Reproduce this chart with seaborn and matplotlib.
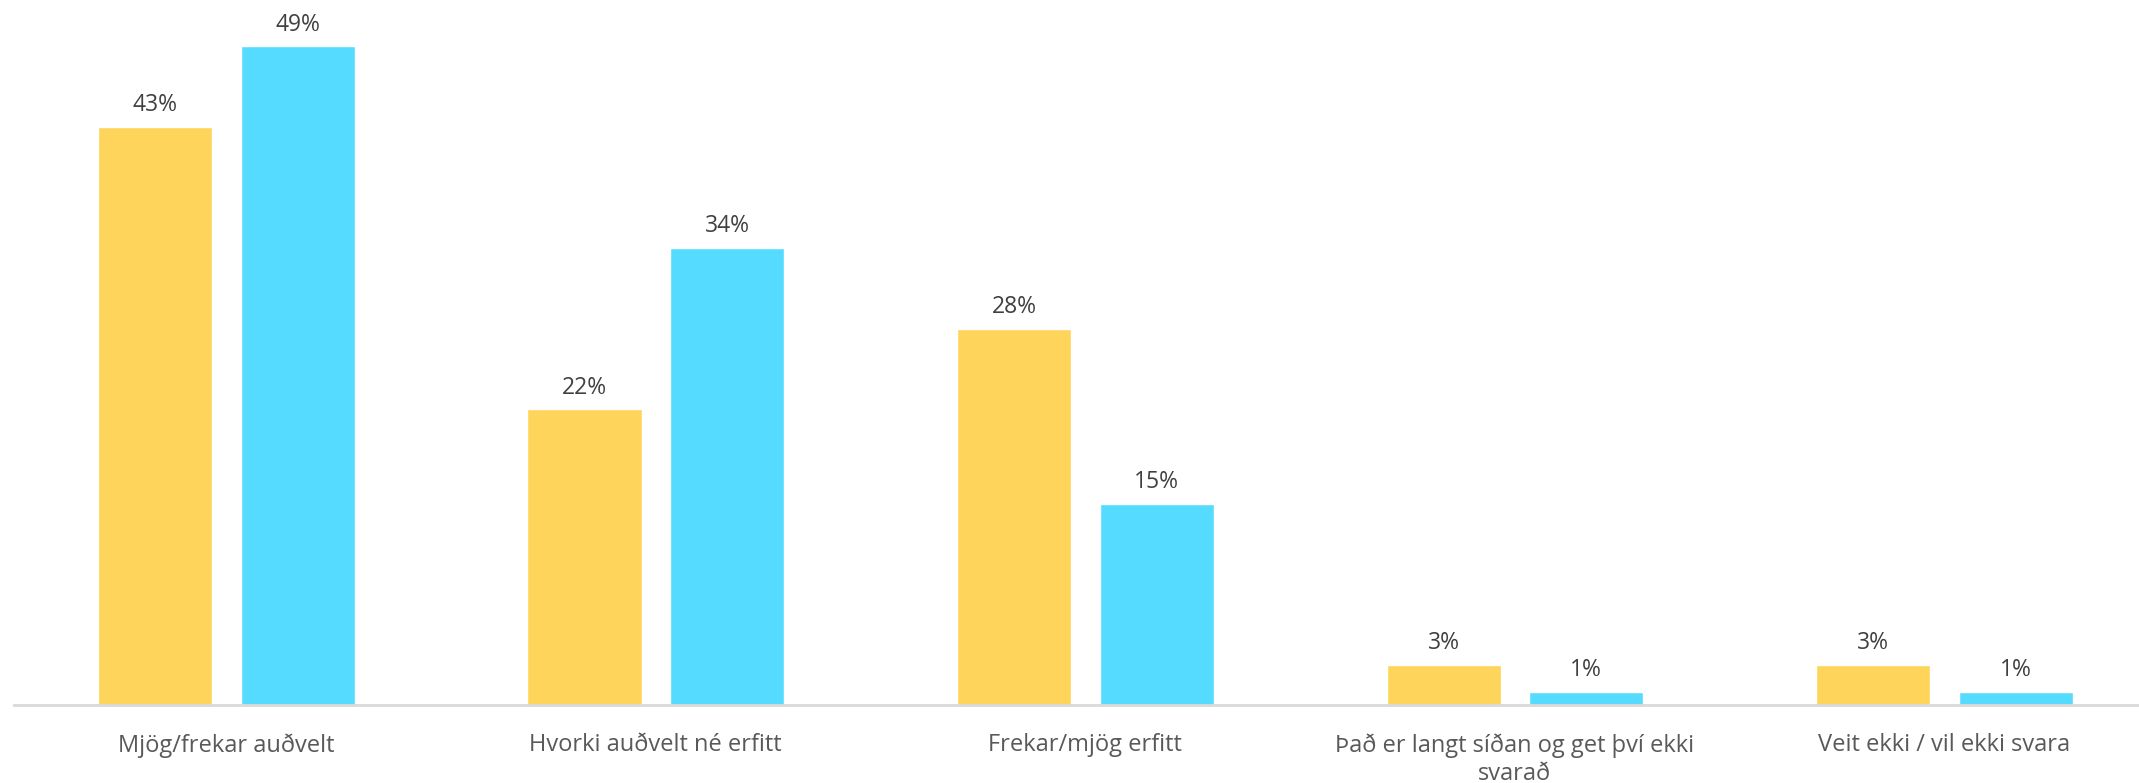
import matplotlib
matplotlib.use("Agg")
import matplotlib.pyplot as plt
import seaborn as sns
import pandas as pd

categories = ['Mjög/frekar auðvelt', 'Hvorki auðvelt né erfitt', 'Frekar/mjög erfitt',
              'Það er langt síðan og get því ekki\nsvarað', 'Veit ekki / vil ekki svara']
series = ['Röð 1', 'Röð 2']
values_1 = [43, 22, 28, 3, 3]
values_2 = [49, 34, 15, 1, 1]
colors = ['#FED45A', '#55DBFF']

df = pd.DataFrame({
    'flokkur': categories * 2,
    'röð': [series[0]] * 5 + [series[1]] * 5,
    'hlutfall': values_1 + values_2,
})

sns.set_style('white')
plt.rcParams['font.family'] = ['Open Sans', 'DejaVu Sans']

fig = plt.figure(figsize=(21.39, 7.83), dpi=100)
ax = fig.add_axes([10 / 1568, 1 - 517 / 574, 1 - 10 / 1568, 517 / 574])

sns.barplot(data=df, x='flokkur', y='hlutfall', hue='röð', order=categories,
            hue_order=series, palette=colors, width=0.664, gap=0.2,
            saturation=1, legend=False, ax=ax)

for cont in ax.containers:
    ax.bar_label(cont, labels=[f'{v:.0f}%' for v in cont.datavalues],
                 padding=7, fontsize=16.5, color='#404040')

ax.set_ylim(0, 52.45)
ax.set_xlim(-0.495, 4.453)
ax.set_xlabel('')
ax.set_ylabel('')
ax.set_yticks([])
for s in ['top', 'right', 'left']:
    ax.spines[s].set_visible(False)
ax.spines['bottom'].set_color('#D9D9D9')
ax.spines['bottom'].set_linewidth(2)
ax.tick_params(axis='x', length=0, pad=20, labelsize=17, labelcolor='#595959')
for t in ax.get_xticklabels():
    t.set_linespacing(1.25)
    t.set_verticalalignment('top')

fig.savefig('out.png', dpi=100)
